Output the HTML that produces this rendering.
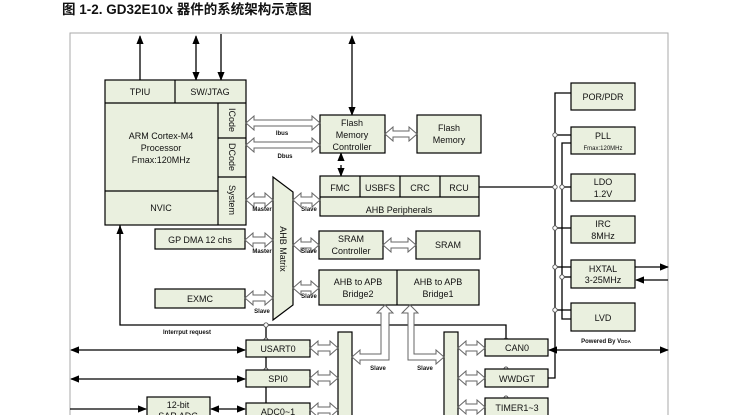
<!DOCTYPE html>
<html><head><meta charset="utf-8"><style>
body{margin:0;background:#fff;width:735px;height:415px;overflow:hidden}
svg text{font-family:"Liberation Sans",Arial,sans-serif;fill:#111}
</style></head><body>
<svg width="735" height="415" viewBox="0 0 735 415" xmlns="http://www.w3.org/2000/svg">
<defs>
<marker id="a" viewBox="0 0 10 10" refX="9" refY="5" markerWidth="7" markerHeight="7" orient="auto-start-reverse"><path d="M0,1 L10,5 L0,9z" fill="#000"/></marker>
</defs>
<text x="62" y="14" font-size="13.5" font-weight="bold" style='font-family:"Liberation Sans","Noto Sans CJK SC",sans-serif'>图 1-2. GD32E10x 器件的系统架构示意图</text>
<rect x="70" y="33" width="598" height="400" fill="none" stroke="#aaa" stroke-width="1"/>
<g stroke="#000" stroke-width="1.3" fill="none">
<line x1="140" y1="80" x2="140" y2="36" marker-end="url(#a)"/>
<line x1="196" y1="36" x2="196" y2="80" marker-start="url(#a)" marker-end="url(#a)"/>
<line x1="221" y1="34" x2="221" y2="80" marker-end="url(#a)"/>
<line x1="352" y1="36" x2="352" y2="115" marker-start="url(#a)" marker-end="url(#a)"/>
<line x1="341" y1="160" x2="341" y2="153" marker-end="url(#a)"/>
<line x1="341" y1="165" x2="341" y2="176" marker-end="url(#a)"/>
<polyline points="120,225 120,325 506,325 506,340" />
<line x1="120" y1="240" x2="120" y2="226" marker-end="url(#a)"/>
<line x1="266" y1="325" x2="266" y2="403"/>
<line x1="479" y1="187" x2="555" y2="187"/>
<polyline points="571,93 555,93 555,378 548,378"/>
<polyline points="571,143 562,143 562,319 571,319"/>
<line x1="555" y1="135" x2="571" y2="135"/>
<line x1="562" y1="187" x2="571" y2="187"/>
<line x1="555" y1="228" x2="571" y2="228"/>
<line x1="555" y1="267" x2="571" y2="267"/>
<line x1="562" y1="277" x2="571" y2="277"/>
<line x1="555" y1="310" x2="571" y2="310"/>
<line x1="635" y1="267" x2="668" y2="267" marker-end="url(#a)"/>
<line x1="668" y1="280" x2="636" y2="280" marker-end="url(#a)"/>
<line x1="549" y1="350" x2="668" y2="350" marker-start="url(#a)" marker-end="url(#a)"/>
<line x1="71" y1="350" x2="245" y2="350" marker-start="url(#a)" marker-end="url(#a)"/>
<line x1="71" y1="379" x2="245" y2="379" marker-start="url(#a)" marker-end="url(#a)"/>
<line x1="70" y1="409" x2="146" y2="409" marker-end="url(#a)"/>
<line x1="211" y1="409" x2="245" y2="409" marker-start="url(#a)" marker-end="url(#a)"/>
</g>
<g fill="#fff" stroke="#555" stroke-width="0.9">
<circle cx="266" cy="325" r="2.2"/><circle cx="266" cy="340" r="2"/><circle cx="266" cy="370" r="2"/>
<circle cx="506" cy="340" r="2"/><circle cx="506" cy="369" r="2"/><circle cx="506" cy="398" r="2"/>
<circle cx="555" cy="135" r="2.2"/><circle cx="555" cy="187" r="2.2"/><circle cx="562" cy="187" r="2.2"/>
<circle cx="555" cy="228" r="2.2"/><circle cx="555" cy="267" r="2.2"/><circle cx="562" cy="277" r="2.2"/><circle cx="555" cy="310" r="2.2"/>
</g>
<g fill="#eaf0df" stroke="#000" stroke-width="1.2">
<rect x="105" y="80" width="141" height="145"/>
<line x1="105" y1="103" x2="246" y2="103"/><line x1="175" y1="80" x2="175" y2="103"/>
<line x1="218" y1="103" x2="218" y2="225"/><line x1="218" y1="138" x2="246" y2="138"/><line x1="218" y1="177" x2="246" y2="177"/>
<line x1="105" y1="191" x2="218" y2="191"/>
<rect x="320" y="115" width="65" height="38"/>
<rect x="417" y="115" width="64" height="38"/>
<polygon points="273,177 293,192 293,305 273,320"/>
<rect x="320" y="176" width="159" height="40"/>
<line x1="320" y1="197" x2="479" y2="197"/><line x1="360" y1="176" x2="360" y2="197"/><line x1="400" y1="176" x2="400" y2="197"/><line x1="440" y1="176" x2="440" y2="197"/>
<rect x="319" y="231" width="64" height="28"/>
<rect x="416" y="231" width="64" height="28"/>
<rect x="319" y="270" width="160" height="35"/><line x1="397" y1="270" x2="397" y2="305"/>
<rect x="155" y="229" width="90" height="20"/>
<rect x="155" y="289" width="90" height="19"/>
<rect x="246" y="340" width="64" height="17"/>
<rect x="246" y="370" width="64" height="17"/>
<rect x="246" y="403" width="64" height="20"/>
<rect x="147" y="397" width="63" height="25"/>
<rect x="338" y="332" width="14" height="90"/>
<rect x="444" y="332" width="14" height="90"/>
<rect x="485" y="339" width="63" height="17"/>
<rect x="485" y="369" width="63" height="18"/>
<rect x="485" y="398" width="63" height="20"/>
<rect x="571" y="83" width="64" height="27"/>
<rect x="571" y="127" width="64" height="27"/>
<rect x="571" y="174" width="64" height="27"/>
<rect x="571" y="216" width="64" height="27"/>
<rect x="571" y="260" width="64" height="28"/>
<rect x="571" y="303" width="64" height="28"/>
</g>
<g fill="#fff" stroke="#666" stroke-width="1">
<polygon points="246,123 254,116 254,120 312,120 312,116 320,123 312,130 312,126 254,126 254,130"/>
<polygon points="246,145 254,138 254,142 312,142 312,138 320,145 312,152 312,148 254,148 254,152"/>
<polygon points="385,134 393,127 393,131 409,131 409,127 417,134 409,141 409,137 393,137 393,141"/>
<polygon points="383,245 391,238 391,242 408,242 408,238 416,245 408,252 408,248 391,248 391,252"/>
<polygon points="246,200 254,193 254,197 265,197 265,193 273,200 265,207 265,203 254,203 254,207"/>
<polygon points="293,200 301,193 301,197 312,197 312,193 320,200 312,207 312,203 301,203 301,207"/>
<polygon points="245,240 253,233 253,237 265,237 265,233 273,240 265,247 265,243 253,243 253,247"/>
<polygon points="293,245 301,238 301,242 311,242 311,238 319,245 311,252 311,248 301,248 301,252"/>
<polygon points="245,298 253,291 253,295 265,295 265,291 273,298 265,305 265,301 253,301 253,305"/>
<polygon points="293,288 301,281 301,285 311,285 311,281 319,288 311,295 311,291 301,291 301,295"/>
<polygon points="310,348 318,341 318,345 330,345 330,341 338,348 330,355 330,351 318,351 318,355"/>
<polygon points="310,378 318,371 318,375 330,375 330,371 338,378 330,385 330,381 318,381 318,385"/>
<polygon points="310,410 318,403 318,407 330,407 330,403 338,410 330,417 330,413 318,413 318,417"/>
<polygon points="458,348 466,341 466,345 477,345 477,341 485,348 477,355 477,351 466,351 466,355"/>
<polygon points="458,378 466,371 466,375 477,375 477,371 485,378 477,385 477,381 466,381 466,385"/>
<polygon points="458,407 466,400 466,404 477,404 477,400 485,407 477,414 477,410 466,410 466,414"/>
<polygon points="385,305 393,313 389,313 389,360 360,360 360,364 352,357 360,350 360,354 381,354 381,313 377,313"/>
<polygon points="410,305 418,313 414,313 414,354 436,354 436,350 444,357 436,364 436,360 408,360 408,313 402,313"/>
</g>
<g font-size="9" text-anchor="middle">
<text x="140" y="95">TPIU</text><text x="210" y="95">SW/JTAG</text>
<text x="161" y="139">ARM Cortex-M4</text><text x="161" y="151">Processor</text><text x="161" y="163">Fmax:120MHz</text>
<text x="161" y="211">NVIC</text>
<text transform="translate(229,120) rotate(90)" text-anchor="middle">ICode</text>
<text transform="translate(229,157) rotate(90)" text-anchor="middle">DCode</text>
<text transform="translate(229,200) rotate(90)" text-anchor="middle">System</text>
<text transform="translate(280,249) rotate(90)" text-anchor="middle">AHB Matrix</text>
<text x="352" y="126">Flash</text><text x="352" y="138">Memory</text><text x="352" y="150">Controller</text>
<text x="449" y="131">Flash</text><text x="449" y="143">Memory</text>
<text x="340" y="191">FMC</text><text x="380" y="191">USBFS</text><text x="420" y="191">CRC</text><text x="459" y="191">RCU</text>
<text x="399" y="213">AHB Peripherals</text>
<text x="351" y="242">SRAM</text><text x="351" y="254">Controller</text>
<text x="448" y="248">SRAM</text>
<text x="358" y="285">AHB to APB</text><text x="358" y="297">Bridge2</text>
<text x="438" y="285">AHB to APB</text><text x="438" y="297">Bridge1</text>
<text x="200" y="243">GP DMA 12 chs</text>
<text x="200" y="302">EXMC</text>
<text x="278" y="352">USART0</text><text x="278" y="382">SPI0</text><text x="278" y="415">ADC0~1</text>
<text x="178" y="408">12-bit</text><text x="178" y="419">SAR ADC</text>
<text x="517" y="351">CAN0</text><text x="517" y="382">WWDGT</text><text x="517" y="411">TIMER1~3</text>
<text x="603" y="100">POR/PDR</text>
<text x="603" y="139">PLL</text><text x="603" y="150" font-size="6">Fmax:120MHz</text>
<text x="603" y="185">LDO</text><text x="603" y="197">1.2V</text>
<text x="603" y="227">IRC</text><text x="603" y="239">8MHz</text>
<text x="603" y="272">HXTAL</text><text x="603" y="283">3-25MHz</text>
<text x="603" y="321">LVD</text>
</g>
<g font-size="6" font-weight="bold" fill="#222" text-anchor="middle">
<text x="282" y="135">Ibus</text><text x="285" y="158">Dbus</text>
<text x="262" y="211">Master</text><text x="309" y="211">Slave</text>
<text x="262" y="253">Master</text><text x="309" y="253">Slave</text>
<text x="262" y="313">Slave</text><text x="309" y="298">Slave</text>
<text x="187" y="334">Interrput request</text>
<text x="378" y="370">Slave</text><text x="425" y="370">Slave</text>
<text x="606" y="343">Powered By V<tspan font-size="4.5">DDA</tspan></text>
</g>
</svg>
</body></html>
